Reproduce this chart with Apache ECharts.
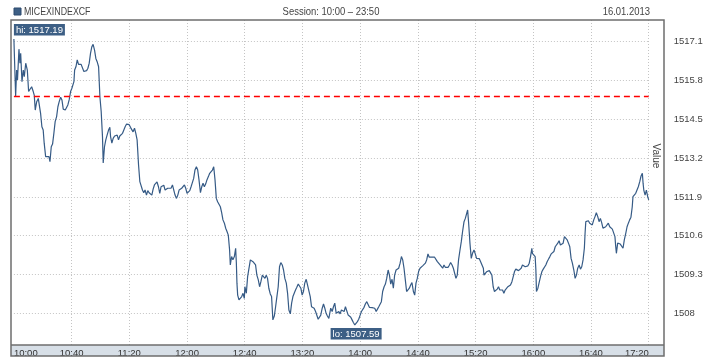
<!DOCTYPE html>
<html><head><meta charset="utf-8">
<script src="https://cdn.jsdelivr.net/npm/echarts@6/dist/echarts.min.js"></script>
<style>html,body{margin:0;padding:0;background:#fff}#c{width:718px;height:360px}</style>
</head><body><div id="c"></div>
<script>
const seriesName = 'MICEXINDEXCF';
const sessionText = 'Session: 10:00 \u2013 23:50';
const dateText = '16.01.2013';
const yAxisName = 'Value';
const xTickLabels = ['10:00','10:40','11:20','12:00','12:40','13:20','14:00','14:40','15:20','16:00','16:40','17:20'];
const prevClose = 1515.27;
// minutes since 10:00
const times = [
0,1.2,1.9,2.5,3.5,4.2,4.7,5.6,6.5,7.2,
8.2,8.9,9.3,10.2,11.1,12.3,13.4,14.1,14.8,15.8,
16.9,17.6,18.5,19.4,20.3,21.0,22.0,23.1,24.3,25.0,
25.9,26.8,27.7,28.6,29.6,30.5,31.4,32.4,33.3,34.2,
35.6,36.5,37.4,38.3,39.3,40.2,41.6,42.1,43.0,43.9,
44.8,45.7,46.6,47.6,48.5,49.4,50.4,51.3,52.2,53.1,
54.0,54.9,55.9,56.8,57.7,58.7,59.6,60.5,61.4,61.9,
62.8,63.7,64.6,65.6,66.5,67.0,67.9,68.8,69.8,70.7,
71.6,72.5,73.4,74.3,75.3,76.2,77.1,78.1,79.0,79.9,
80.8,81.7,82.6,83.6,84.5,85.4,86.4,87.3,88.2,89.1,
90.0,90.9,91.9,92.8,93.7,94.7,95.6,96.5,97.4,98.3,
99.2,100.2,101.1,102.0,103.0,103.9,104.8,105.7,106.6,107.5,
108.9,109.9,110.8,111.7,112.7,113.6,114.5,115.4,116.3,117.2,
118.2,119.1,120.0,121.0,121.9,122.8,123.7,124.6,125.5,126.5,
127.4,128.3,129.3,130.2,131.1,132.0,132.9,133.8,134.8,135.7,
136.6,137.6,138.5,139.4,140.3,141.2,142.1,143.1,144.0,144.9,
145.9,146.8,147.7,148.6,149.5,150.0,150.9,151.8,152.8,153.7,
154.2,154.6,155.1,156.0,157.0,157.9,158.8,159.7,160.1,161.1,
162.0,162.9,163.9,164.8,165.7,166.6,167.5,168.4,169.4,170.3,
171.2,172.2,173.1,174.0,174.9,175.8,176.7,177.7,178.6,179.5,
180.5,181.4,182.3,183.2,184.1,185.0,186.0,186.9,187.8,188.8,
189.7,190.6,191.6,192.5,193.4,194.3,195.2,196.1,197.1,198.0,
198.9,199.8,200.7,201.6,202.6,203.5,204.4,205.4,206.3,207.2,
208.1,209.1,210.0,210.9,211.8,212.7,213.7,214.6,215.5,216.4,
217.3,218.3,219.6,220.6,221.5,222.4,223.4,224.3,225.2,226.1,
227.0,227.9,228.9,229.8,230.7,231.7,232.6,233.5,234.4,235.3,
236.3,237.2,238.1,239.0,240.0,240.9,241.8,242.7,243.6,244.6,
245.5,246.4,247.3,248.3,249.2,250.1,251.1,252.0,252.9,253.8,
254.7,255.6,256.6,257.5,258.4,259.4,260.3,261.2,262.1,263.0,
263.9,264.9,265.8,266.7,267.7,268.6,269.5,270.4,271.3,272.2,
273.2,274.1,275.0,275.9,276.9,277.8,278.7,279.6,280.5,281.5,
282.4,283.3,284.3,285.2,286.1,287.0,287.9,288.8,289.8,290.7,
291.6,292.6,293.5,294.4,295.4,296.3,297.2,298.1,299.0,299.9,
300.9,301.8,302.7,303.7,304.6,305.5,306.4,307.3,308.2,309.2,
310.1,311.0,312.0,312.9,313.8,314.5,315.2,316.1,317.0,317.9,
318.9,319.8,320.7,321.7,322.6,323.5,324.4,325.4,325.8,326.7,
327.6,328.6,329.5,330.4,331.3,332.2,333.1,334.1,335.0,335.9,
336.8,337.8,338.7,339.6,340.5,341.4,342.4,343.3,344.2,345.2,
346.1,347.0,347.9,348.8,349.8,350.7,351.6,352.5,353.5,354.4,
355.3,356.3,357.2,358.1,359.0,359.4,360.4,361.3,361.8,362.2,
363.2,364.1,365.0,366.0,366.9,367.8,368.7,369.6,370.5,371.5,
372.4,373.3,374.3,375.2,376.1,377.0,377.9,378.8,379.8,380.7,
381.6,382.6,383.5,384.4,385.3,386.2,387.1,388.1,389.0,389.5,
389.9,390.8,391.8,392.7,393.6,394.5,395.4,395.9,396.4,397.3,
398.2,399.1,400.0,400.9,401.9,402.8,403.7,404.7,405.6,406.5,
407.4,408.3,409.2,410.2,411.1,412.0,413.0,413.9,414.8,415.7,
416.6,417.1,417.6,418.5,419.4,420.3,421.3,422.2,423.1,424.1,
425.0,425.9,426.8,427.7,428.6,429.1,430.0,431.0,431.9,432.8,
433.8,434.7,435.6,436.1,436.6,437.5,438.4,439.3,440
];
const values = [
1517.19,1515.28,1516.15,1515.82,1516.85,1516.38,1516.71,1515.76,1516.15,1515.93,
1516.38,1516.43,1516.15,1515.43,1515.37,1515.59,1515.43,1515.31,1514.81,1515.09,
1515.20,1515.26,1514.70,1514.25,1514.14,1513.70,1513.25,1513.19,1513.25,1513.08,
1513.58,1513.67,1514.03,1514.42,1514.59,1514.92,1515.09,1515.24,1515.15,1514.84,
1514.81,1514.76,1514.98,1515.15,1515.43,1515.54,1515.76,1516.15,1516.26,1516.49,
1516.34,1516.38,1516.34,1516.35,1516.10,1516.07,1516.13,1516.21,1516.38,1516.71,
1516.93,1517.01,1516.82,1516.54,1516.43,1516.26,1515.26,1514.76,1513.92,1513.04,
1513.58,1513.81,1513.97,1514.14,1514.23,1513.92,1513.70,1513.86,1513.94,1513.90,
1513.97,1513.81,1513.94,1513.92,1514.03,1514.14,1514.25,1514.34,1514.37,1514.32,
1514.23,1514.20,1514.08,1514.20,1514.03,1513.81,1512.97,1512.41,1512.44,1512.13,
1512.04,1512.13,1511.96,1512.11,1512.04,1512.08,1511.96,1512.16,1512.30,1512.36,
1512.40,1512.24,1512.02,1512.24,1512.27,1512.29,1512.13,1512.08,1512.19,1512.22,
1512.19,1512.30,1512.36,1511.96,1511.85,1511.96,1512.13,1512.16,1512.19,1512.22,
1512.30,1512.19,1512.02,1512.04,1512.11,1512.24,1512.38,1512.52,1512.80,1512.91,
1512.80,1512.47,1512.04,1512.24,1512.36,1512.24,1512.33,1512.47,1512.58,1512.69,
1512.75,1512.80,1512.91,1512.47,1511.85,1511.74,1511.77,1511.57,1511.37,1511.13,
1511.02,1510.85,1510.74,1510.62,1510.12,1509.62,1509.90,1509.79,1509.90,1510.18,
1509.68,1509.01,1508.61,1508.45,1508.39,1508.56,1508.67,1508.50,1508.89,1508.67,
1509.23,1509.21,1509.79,1509.81,1509.73,1509.79,1509.62,1509.28,1509.12,1508.89,
1509.06,1509.28,1509.23,1509.17,1509.28,1509.17,1508.84,1508.65,1508.56,1507.78,
1507.91,1508.22,1508.56,1508.89,1509.56,1509.70,1509.62,1509.45,1509.17,1509.01,
1508.67,1508.11,1507.98,1508.34,1508.56,1508.67,1508.78,1508.87,1508.98,1508.92,
1508.84,1508.61,1508.73,1509.01,1509.14,1508.95,1508.89,1508.56,1508.22,1508.28,
1508.17,1508.06,1508.02,1507.80,1507.75,1507.94,1508.17,1508.31,1508.17,1508.00,
1507.91,1507.83,1508.17,1508.06,1508.22,1508.34,1508.00,1508.02,1508.06,1507.98,
1508.11,1508.14,1508.06,1508.22,1508.25,1507.94,1507.98,1507.87,1507.78,1507.69,
1507.61,1507.59,1507.72,1507.80,1507.94,1508.06,1508.02,1508.20,1508.31,1508.39,
1508.34,1508.20,1508.17,1508.19,1508.17,1508.17,1508.06,1508.14,1508.22,1508.28,
1508.39,1508.73,1508.89,1508.98,1509.17,1509.45,1509.28,1508.98,1509.14,1508.84,
1509.28,1509.45,1509.39,1509.51,1509.68,1509.90,1509.79,1509.51,1509.12,1508.73,
1508.67,1508.84,1508.95,1509.03,1508.73,1508.61,1509.01,1509.17,1509.40,1509.51,
1509.45,1509.59,1509.62,1509.68,1509.79,1509.99,1509.88,1509.84,1509.88,1509.90,
1509.88,1509.84,1509.73,1509.68,1509.62,1509.56,1509.51,1509.62,1509.54,1509.56,
1509.54,1509.61,1509.70,1509.62,1509.51,1509.45,1509.17,1509.28,1509.79,1510.12,
1510.40,1510.74,1511.07,1511.18,1511.19,1511.46,1511.02,1510.35,1509.84,1510.01,
1510.12,1509.99,1509.84,1509.81,1509.83,1509.73,1509.68,1509.51,1509.28,1509.34,
1509.39,1509.43,1509.43,1509.43,1509.28,1508.89,1508.73,1508.67,1508.81,1508.89,
1508.78,1508.73,1508.78,1508.67,1508.78,1508.84,1508.89,1508.84,1508.95,1509.06,
1509.23,1509.40,1509.48,1509.45,1509.43,1509.45,1509.51,1509.62,1509.68,1509.56,
1509.56,1509.59,1509.68,1509.90,1510.18,1510.01,1510.07,1509.90,1509.45,1508.73,
1508.84,1508.87,1509.23,1509.40,1509.48,1509.54,1509.62,1509.73,1509.81,1509.90,
1509.99,1510.03,1510.07,1510.23,1510.29,1510.35,1510.43,1510.29,1510.23,1510.35,
1510.57,1510.59,1510.46,1510.35,1510.23,1509.84,1509.68,1509.45,1509.17,1509.12,
1509.28,1509.51,1509.62,1509.48,1509.56,1509.79,1510.18,1510.68,1511.07,1511.07,
1511.10,1511.02,1510.99,1510.96,1511.13,1511.24,1511.37,1511.24,1511.07,1511.18,
1511.04,1510.85,1510.90,1510.90,1510.96,1511.02,1510.90,1510.96,1510.82,1510.79,
1510.57,1510.26,1510.01,1510.35,1510.37,1510.32,1510.26,1510.18,1510.46,1510.68,
1510.90,1511.02,1511.13,1511.22,1511.57,1511.91,1511.96,1512.02,1512.13,1512.24,
1512.41,1512.60,1512.69,1512.36,1512.13,1511.96,1512.13,1511.91,1511.80
];

const FONT = "'Liberation Sans', Arial, sans-serif";
const TXT = '#444';
const LINE = '#365b86';
const GRIDC = '#c4c4c4';
const AX_FS = 9.5;

const chart = echarts.init(document.getElementById('c'), null, {renderer: 'canvas'});
const data = times.map((t, i) => [t, values[i]]);

chart.setOption({
  animation: false,
  backgroundColor: '#fff',
  grid: [
    {left: 13.9, right: 69.3, top: 2.9, bottom: 7.9},
    {left: 13.9, right: 69.3, top: 20, bottom: 15}
  ],
  xAxis: [
    {gridIndex: 0, type: 'value', min: 0, max: 440, show: false},
    {gridIndex: 1, type: 'value', min: 0, max: 440, interval: 40,
      axisLine: {show: false}, axisTick: {show: false},
      axisLabel: {margin: 3, color: '#333', fontSize: AX_FS, fontFamily: FONT,
        alignMinLabel: 'left', alignMaxLabel: 'right',
        formatter: v => xTickLabels[Math.round(v / 40)]},
      splitLine: {show: true, showMinLine: false, lineStyle: {color: GRIDC, type: [1, 2], width: 1}}}
  ],
  yAxis: [
    {gridIndex: 0, type: 'value', min: 1506.7, max: 1518.4, interval: 1.3, position: 'right',
      axisLine: {show: false}, axisTick: {show: false},
      axisLabel: {margin: 25, color: TXT, fontSize: AX_FS, fontFamily: FONT, showMinLabel: false, showMaxLabel: false,
        formatter: v => String(parseFloat(v.toFixed(1)))},
      splitLine: {show: true, showMinLine: false, showMaxLine: false, lineStyle: {color: GRIDC, type: [1, 2], width: 1}}},
    {gridIndex: 1, type: 'value', min: 0, max: 1, show: false}
  ],
  series: [{
    name: seriesName, type: 'line', xAxisIndex: 0, yAxisIndex: 0,
    data: data, showSymbol: false, symbol: 'none',
    lineStyle: {color: LINE, width: 1.2}, itemStyle: {color: LINE},
    markLine: {silent: true, symbol: ['none', 'none'], label: {show: false},
      lineStyle: {color: '#ff0000', type: [6, 4], width: 1.3},
      data: [{yAxis: prevClose}]},
    markPoint: {silent: true, symbol: 'circle', symbolSize: 1,
      itemStyle: {color: 'rgba(0,0,0,0)'},
      label: {show: true, color: '#fff', backgroundColor: '#3d5f85', padding: [1, 2, 0, 2],
        fontSize: 9.5, lineHeight: 10.5, fontFamily: FONT},
      data: [
        {type: 'max', valueDim: 'y', label: {position: 'top', align: 'left', distance: 3,
          formatter: p => 'hi: ' + p.value.toFixed(2)}},
        {type: 'min', valueDim: 'y', label: {position: 'bottom', distance: 2,
          formatter: p => 'lo: ' + p.value.toFixed(2)}}
      ]}
  }],
  graphic: [
    {type: 'rect', z: -10, shape: {x: 11, y: 345, width: 653, height: 11},
      style: {fill: '#d7dfe7', stroke: null}},
    {type: 'line', z: 50, shape: {x1: 11, y1: 345, x2: 664, y2: 345},
      style: {stroke: '#6e6e6e', lineWidth: 1.3}},
    {type: 'rect', z: 50, shape: {x: 11, y: 20, width: 653, height: 336},
      style: {fill: null, stroke: '#6e6e6e', lineWidth: 1.5}},
    {type: 'rect', z: 50, shape: {x: 14, y: 8, width: 7, height: 7},
      style: {fill: '#3d5f85', stroke: '#2c4a6e', lineWidth: 1}},
    {type: 'text', z: 50, x: 24, y: 12, scaleX: 0.8,
      style: {text: seriesName, fill: TXT, fontSize: 11, fontFamily: FONT, align: 'left', verticalAlign: 'middle'}},
    {type: 'text', z: 50, x: 331, y: 12, scaleX: 0.86,
      style: {text: sessionText, fill: TXT, fontSize: 11, fontFamily: FONT, align: 'center', verticalAlign: 'middle'}},
    {type: 'text', z: 50, x: 650, y: 12, scaleX: 0.86,
      style: {text: dateText, fill: TXT, fontSize: 11, fontFamily: FONT, align: 'right', verticalAlign: 'middle'}},
    {type: 'text', z: 50, x: 656, y: 156, rotation: -Math.PI / 2,
      style: {text: yAxisName, fill: TXT, fontSize: 10, fontFamily: FONT, align: 'center', verticalAlign: 'middle'}}
  ]
});
</script>
</body></html>
